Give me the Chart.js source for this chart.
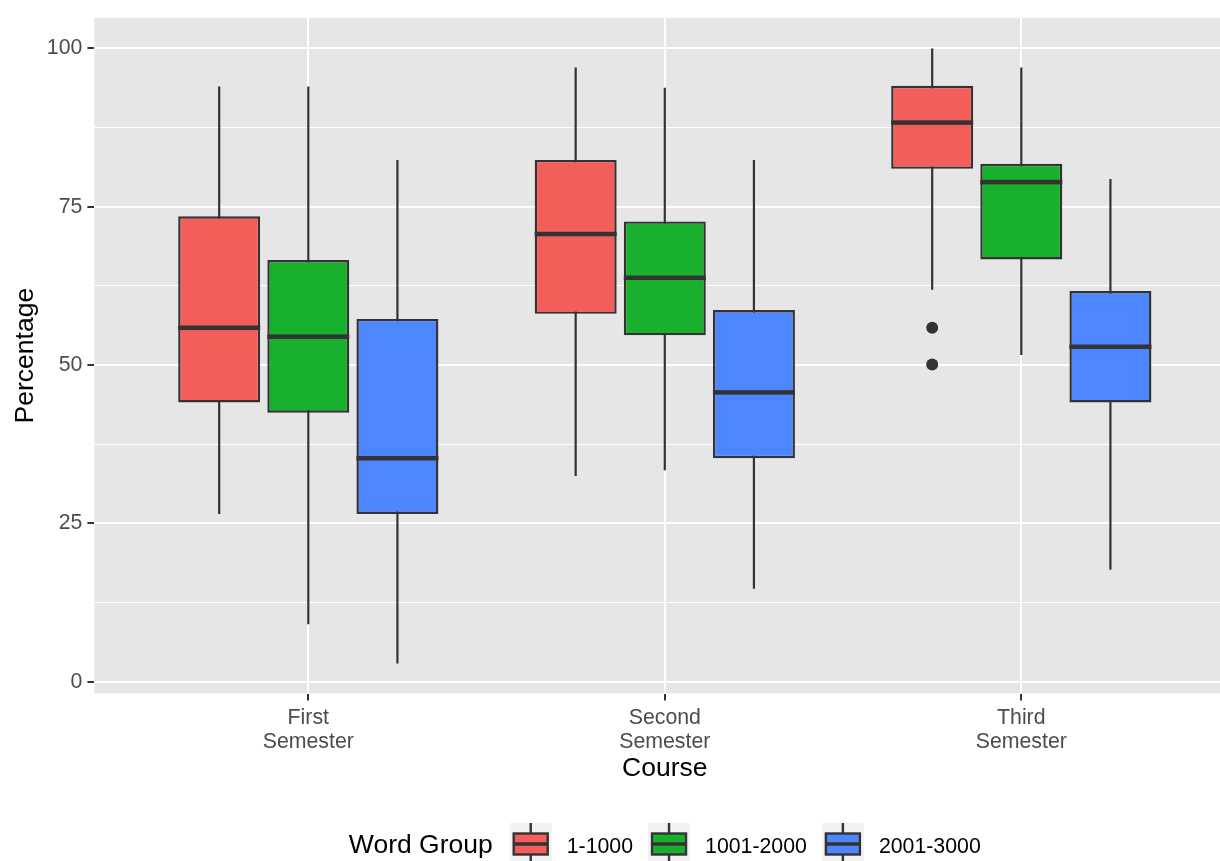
<!DOCTYPE html>
<html>
<head>
<meta charset="utf-8">
<script src="https://cdn.jsdelivr.net/npm/chart.js"></script>
<style>
  html, body { margin: 0; padding: 0; background: #fff; overflow: hidden; }
  #wrap { width: 1220px; height: 861px; overflow: hidden; }
</style>
</head>
<body>
<div id="wrap"><canvas id="chart" width="1242" height="861"></canvas></div>
<script>
// courses on the x axis (1, 2, 3) and word groups as the dodged series
const COURSES = ['First Semester', 'Second Semester', 'Third Semester'];
const COURSE_POS = [1, 2, 3];
const GROUPS = ['1-1000', '1001-2000', '2001-3000'];
const GROUP_COLORS = ['#F35E5A', '#19B02E', '#4D86FF'];

// box statistics, one row per word group, one value per course
const WHISKER_LOW = [[26.5, 32.5, 61.9], [9.1, 33.4, 51.6], [2.9, 14.7, 17.7]];
const Q1 = [[44.1, 58.1, 81.0], [42.5, 54.7, 66.7], [26.5, 35.3, 44.1]];
const MEDIAN = [[55.9, 70.7, 88.3], [54.5, 63.8, 78.9], [35.3, 45.7, 52.9]];
const Q3 = [[73.5, 82.4, 94.1], [66.6, 72.7, 81.8], [57.3, 58.7, 61.7]];
const WHISKER_HIGH = [[94.0, 97.0, 100.0], [94.0, 93.8, 97.0], [82.4, 82.4, 79.4]];
const OUTLIERS = [[[], [], [55.9, 50.1]], [[], [], []], [[], [], []]];

const Y_TICKS = [0, 25, 50, 75, 100];
const Y_MINOR = [12.5, 37.5, 62.5, 87.5];

const FONT = "'Liberation Sans', Arial, Helvetica, sans-serif";
const INK = '#333333';
const PANEL = '#E6E6E6';

Chart.defaults.font.family = FONT;

const boxPlot = {
  id: 'boxPlot',
  beforeDraw(chart) {
    const { ctx, chartArea: a } = chart;
    ctx.save();
    ctx.fillStyle = PANEL;
    ctx.fillRect(a.left, a.top, a.right - a.left, a.bottom - a.top);
    ctx.restore();
  },
  beforeDatasetsDraw(chart) {
    const { ctx } = chart;
    const y = chart.scales.y;
    ctx.save();
    ctx.strokeStyle = INK;
    ctx.lineWidth = 2.2;
    chart.data.datasets.forEach((ds, g) => {
      chart.getDatasetMeta(g).data.forEach((bar, i) => {
        ctx.beginPath();
        ctx.moveTo(bar.x, y.getPixelForValue(WHISKER_LOW[g][i]));
        ctx.lineTo(bar.x, y.getPixelForValue(WHISKER_HIGH[g][i]));
        ctx.stroke();
      });
    });
    ctx.restore();
  },
  afterDatasetsDraw(chart) {
    const { ctx } = chart;
    const y = chart.scales.y;
    ctx.save();
    chart.data.datasets.forEach((ds, g) => {
      chart.getDatasetMeta(g).data.forEach((bar, i) => {
        const py = y.getPixelForValue(MEDIAN[g][i]);
        ctx.fillStyle = INK;
        ctx.fillRect(bar.x - bar.width / 2, py - 2.25, bar.width, 4.5);
        OUTLIERS[g][i].forEach(v => {
          ctx.beginPath();
          ctx.arc(bar.x, y.getPixelForValue(v), 6, 0, Math.PI * 2);
          ctx.fill();
        });
      });
    });
    ctx.restore();
  },
  afterDraw(chart) {
    // legend: title on the left, boxplot keys, centred under the panel
    const { ctx, chartArea: a } = chart;
    const key = 42, gap = 15, titleGap = 17;
    const base = 853;
    const mid = 844;
    ctx.save();
    ctx.font = '26.5px ' + FONT;
    const titleW = ctx.measureText('Word Group').width;
    ctx.font = '21.3px ' + FONT;
    const labelW = GROUPS.map(t => ctx.measureText(t).width);
    let total = titleW + titleGap;
    labelW.forEach((w, i) => { total += key + gap + w + (i < GROUPS.length - 1 ? gap : 0); });
    let x = (a.left + a.right) / 2 - total / 2;

    ctx.fillStyle = '#000';
    ctx.textBaseline = 'alphabetic';
    ctx.textAlign = 'left';
    ctx.font = '26.5px ' + FONT;
    ctx.fillText('Word Group', x, base);
    x += titleW + titleGap;

    ctx.font = '21.3px ' + FONT;
    GROUPS.forEach((label, i) => {
      ctx.fillStyle = '#F2F2F2';
      ctx.fillRect(x, mid - key / 2, key, key);
      const cx = x + key / 2;
      ctx.strokeStyle = INK;
      ctx.lineWidth = 2.4;
      ctx.beginPath();
      ctx.moveTo(cx, mid - key / 2);
      ctx.lineTo(cx, mid + key / 2);
      ctx.stroke();
      ctx.fillStyle = GROUP_COLORS[i];
      ctx.fillRect(cx - 17, mid - 10.5, 34, 21);
      ctx.strokeRect(cx - 17, mid - 10.5, 34, 21);
      ctx.fillStyle = INK;
      ctx.fillRect(cx - 17, mid - 1.75, 34, 3.5);
      x += key + gap;
      ctx.fillStyle = '#000';
      ctx.fillText(label, x, base);
      x += labelW[i] + gap;
    });
    ctx.restore();
  }
};

const datasets = GROUPS.map((name, g) => ({
  label: name,
  data: COURSE_POS.map((pos, i) => ({ x: pos, y: [Q1[g][i], Q3[g][i]] })),
  backgroundColor: GROUP_COLORS[g],
  borderColor: INK,
  borderWidth: 2.4,
  borderSkipped: false,
  categoryPercentage: 0.75,
  barPercentage: 0.92
}));

new Chart(document.getElementById('chart'), {
  type: 'bar',
  data: { datasets: datasets },
  options: {
    responsive: false,
    animation: false,
    layout: { padding: { left: 0, top: 14.9, right: 6.8, bottom: 68 } },
    plugins: { legend: { display: false }, tooltip: { enabled: false } },
    scales: {
      x: {
        type: 'linear',
        min: 0.4,
        max: 3.6,
        offset: false,
        afterBuildTicks: s => { s.ticks = COURSE_POS.map(v => ({ value: v })); },
        afterFit: s => { s.height = 99.5; },
        border: { display: false },
        grid: { offset: false, color: '#FFFFFF', lineWidth: 2, tickColor: INK, tickWidth: 2, tickLength: 7 },
        ticks: {
          callback: v => COURSES[COURSE_POS.indexOf(v)].split(' '),
          color: '#4D4D4D',
          font: { size: 21.3, lineHeight: 1.1 },
          padding: 6,
          maxRotation: 0,
          autoSkip: false
        },
        title: {
          display: true,
          text: 'Course',
          color: '#000',
          font: { size: 26.5 },
          padding: { top: 0, bottom: 8.5 }
        }
      },
      y: {
        min: -1.85,
        max: 104.85,
        afterBuildTicks: s => {
          s.ticks = Y_TICKS.concat(Y_MINOR).sort((p, q) => p - q).map(v => ({ value: v }));
        },
        afterFit: s => { s.width = 94.4; },
        border: { display: false },
        grid: {
          color: '#FFFFFF',
          lineWidth: c => (Y_TICKS.includes(c.tick.value) ? 2 : 1),
          tickColor: c => (Y_TICKS.includes(c.tick.value) ? INK : 'rgba(0,0,0,0)'),
          tickWidth: 2,
          tickLength: 7
        },
        ticks: {
          callback: v => (Y_TICKS.includes(v) ? String(v) : ''),
          color: '#4D4D4D',
          font: { size: 21.3 },
          padding: 5,
          autoSkip: false
        },
        title: {
          display: true,
          text: 'Percentage',
          color: '#000',
          font: { size: 26.5 },
          padding: { top: 10, bottom: 0 }
        }
      }
    }
  },
  plugins: [boxPlot]
});
</script>
</body>
</html>
